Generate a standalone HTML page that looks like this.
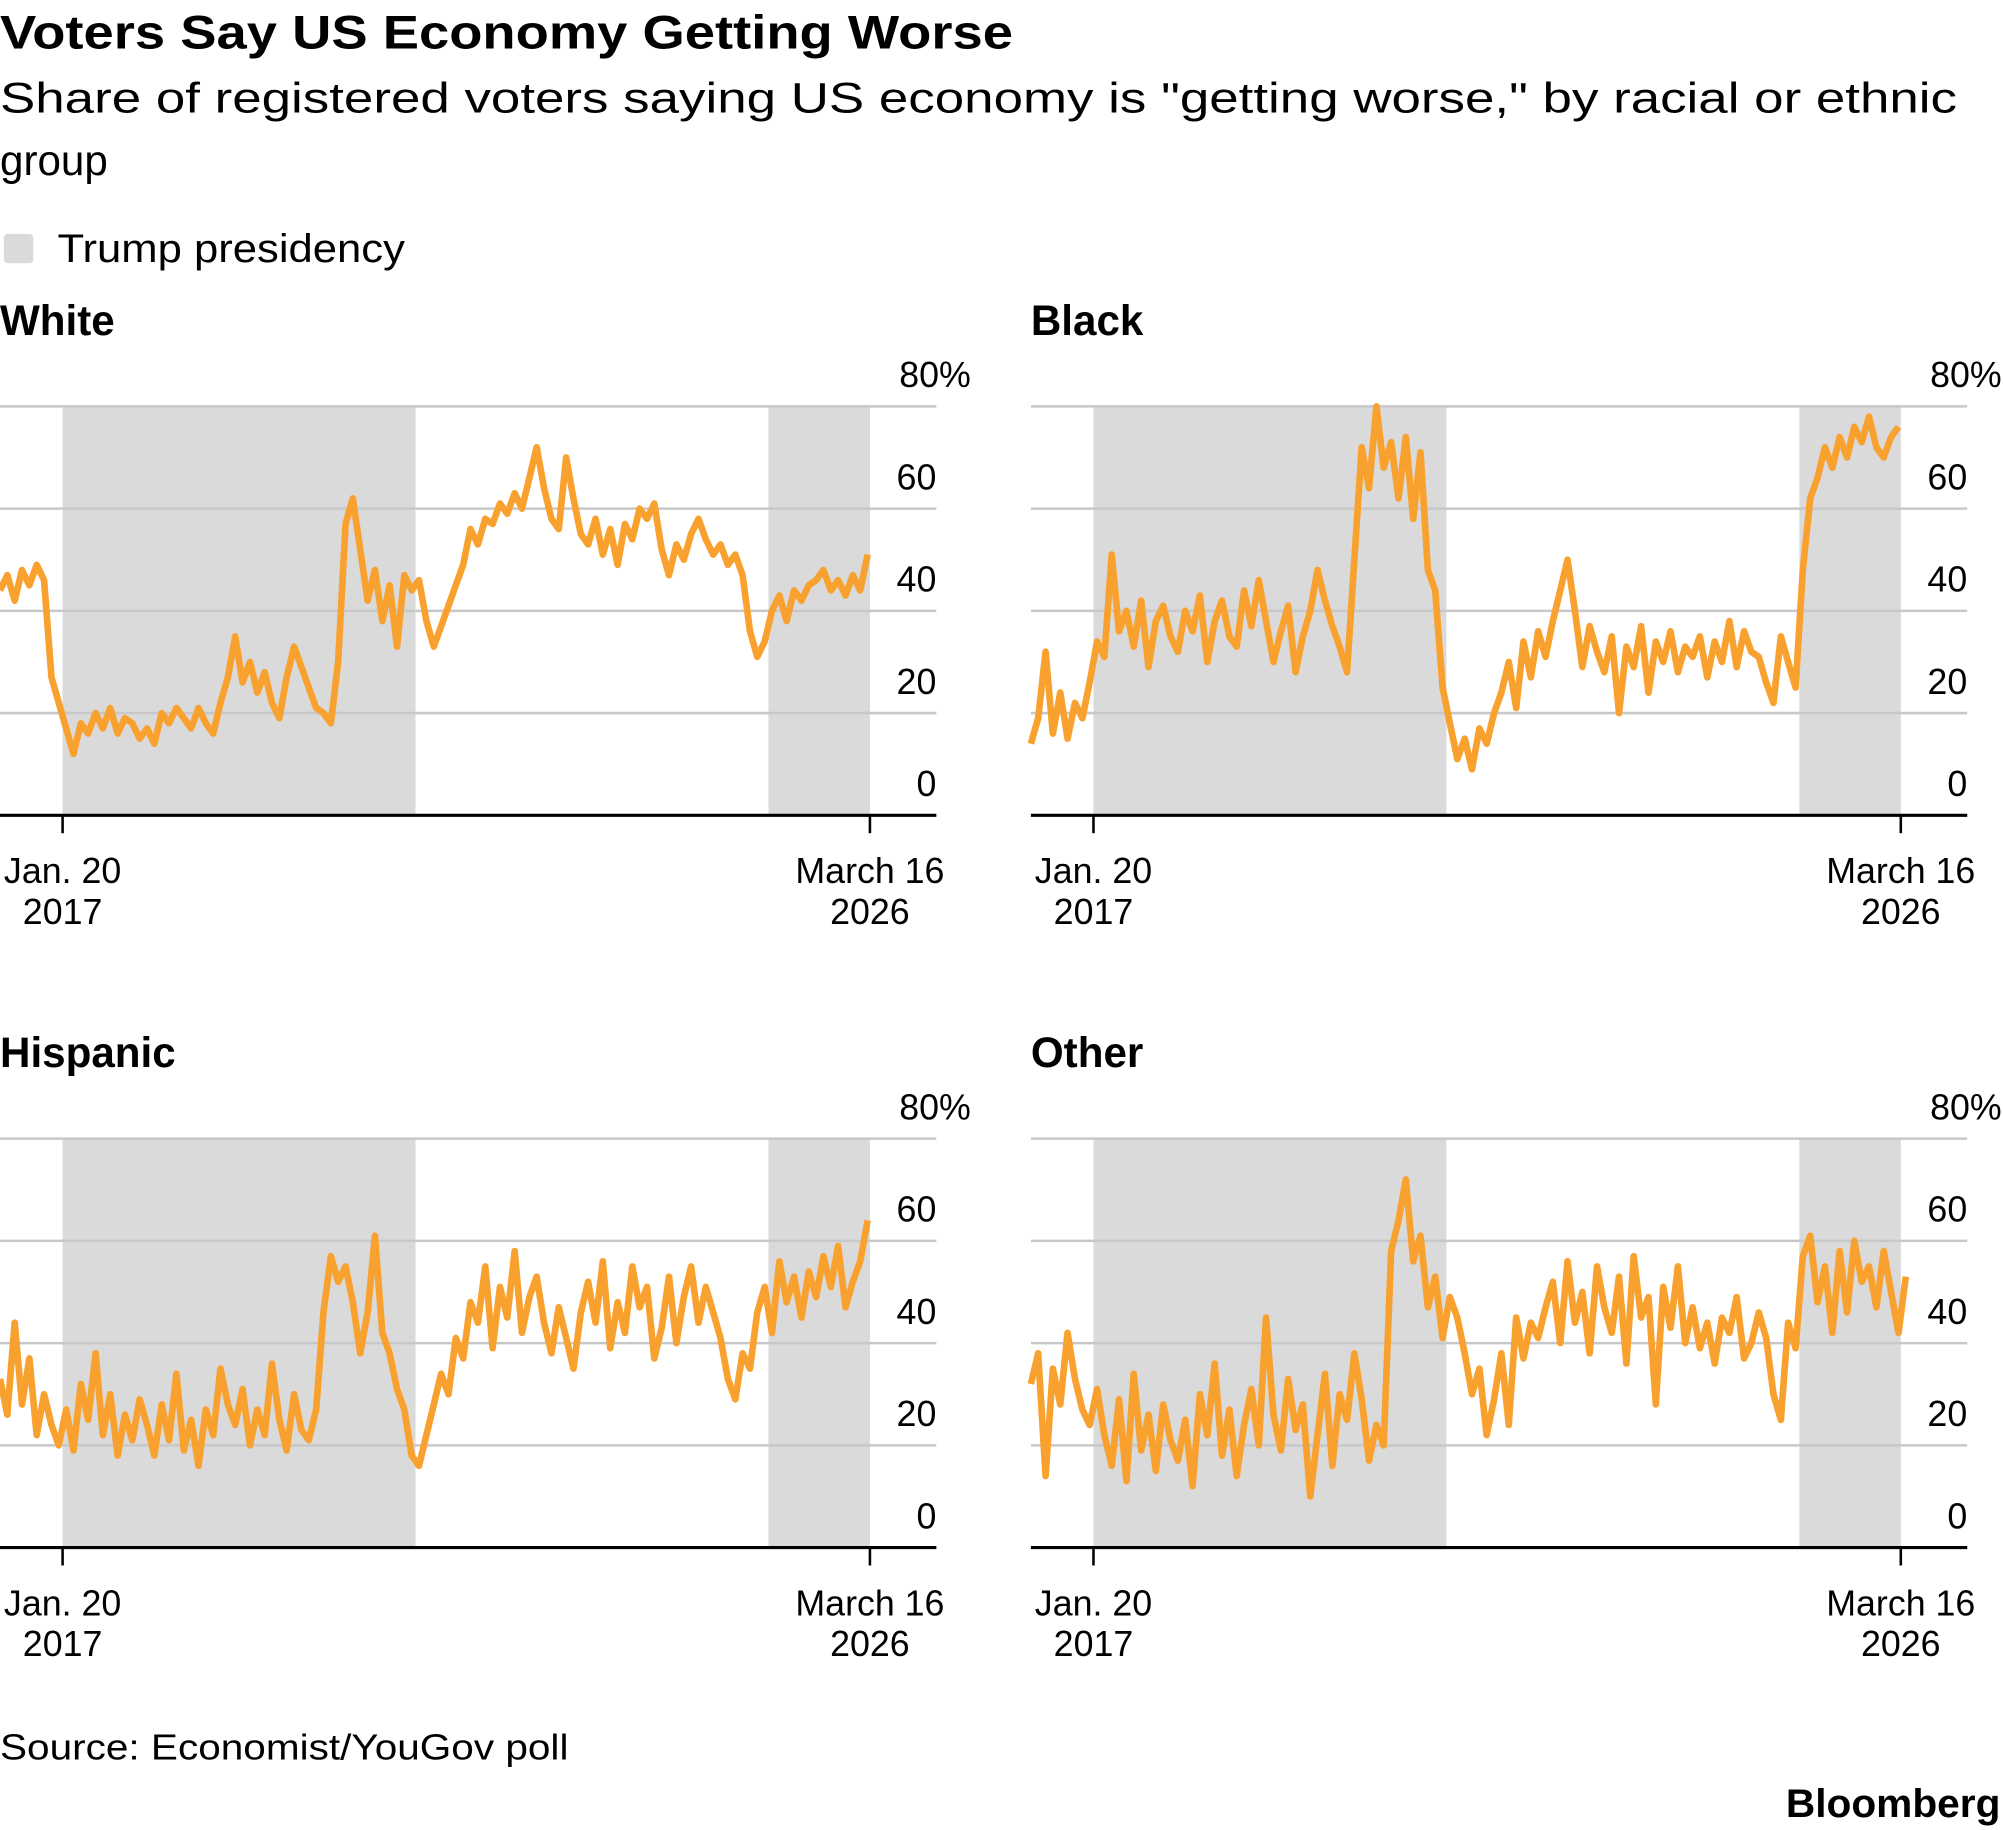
<!DOCTYPE html>
<html><head><meta charset="utf-8"><style>
html,body{margin:0;padding:0;background:#fff;}
svg{display:block;font-family:"Liberation Sans",Arial,sans-serif;}
</style></head><body>
<svg id="chart" width="2003" height="1830" viewBox="0 0 1568 1432" preserveAspectRatio="none" xmlns="http://www.w3.org/2000/svg">
<text x="0" y="38" font-size="37" font-weight="bold" fill="#000" textLength="793" lengthAdjust="spacingAndGlyphs">Voters Say US Economy Getting Worse</text>
<text x="0" y="88" font-size="33" fill="#000" textLength="1532" lengthAdjust="spacingAndGlyphs">Share of registered voters saying US economy is "getting worse," by racial or ethnic</text>
<text x="0" y="137" font-size="33" fill="#000">group</text>
<rect x="3" y="183" width="23" height="23" rx="3" fill="#dadada"/>
<text x="45" y="205" font-size="31" fill="#000" textLength="272" lengthAdjust="spacingAndGlyphs">Trump presidency</text>
<text x="0" y="1377" font-size="28" fill="#000" textLength="445" lengthAdjust="spacingAndGlyphs">Source: Economist/YouGov poll</text>
<text x="1566" y="1422" font-size="31" font-weight="bold" text-anchor="end" fill="#000" textLength="168" lengthAdjust="spacingAndGlyphs">Bloomberg</text>
<g id="panels"></g>
</svg>
<script>
const panelTitles = ["White","Black","Hispanic","Other"];
const yTicks = [0,20,40,60,80];
const startYear = 2016.34;
const stepYear = 1/12;
const shadeStarts = [2017.05, 2025.05];
const shadeEnds = [2021.05, 2026.2];
const white = [44,47,42,48,45,49,46,27,22,17, 12,18,16,20,17,21,16,19,18,15, 17,14,20,18,21,19,17,21,18,16, 22,27,35,26,30,24,28,22,19,27, 33,29,25,21,20,18,30,57,62,52, 42,48,38,45,33,47,44,46,38,33, 37,41,45,49,56,53,58,57,61,59, 63,60,66,72,64,58,56,70,62,55, 53,58,51,56,49,57,54,60,58,61, 52,47,53,50,55,58,54,51,53,49, 51,47,36,31,34,40,43,38,44,42, 45,46,48,44,46,43,47,44,51];
const black = [14,19,32,16,24,15,22,19,26,34, 31,51,36,40,33,42,29,38,41,35, 32,40,36,43,30,38,42,35,33,44, 37,46,38,30,36,41,28,35,40,48, 42,37,33,28,50,72,64,80,68,73, 62,74,58,71,48,44,25,18,11,15, 9,17,14,20,24,30,21,34,27,36, 31,38,44,50,40,29,37,32,28,35, 20,33,29,37,24,34,30,36,28,33, 31,35,27,34,30,38,29,36,32,31, 26,22,35,30,25,48,62,66,72,68, 74,70,76,73,78,72,70,74,76];
const hispanic = [33,26,44,28,37,22,30,24,20,27, 19,32,25,38,22,30,18,26,21,29, 24,18,28,21,34,19,25,16,27,22, 35,28,24,31,20,27,22,36,25,19, 30,23,21,27,46,57,52,55,48,38, 46,61,42,38,31,27,18,16,22,28, 34,30,41,37,48,44,55,39,51,45, 58,42,49,53,44,38,47,41,35,46, 52,44,56,39,48,42,55,47,51,37, 43,53,40,49,55,44,51,46,41,33, 29,38,35,46,51,42,56,48,53,45, 54,49,57,51,59,47,52,56,64];
const other = [32,38,14,35,28,42,33,27,24,31, 22,16,29,13,34,19,26,15,28,21, 17,25,12,30,22,36,18,27,14,24, 31,20,45,26,19,33,23,28,10,22, 34,16,30,25,38,29,17,24,20,58, 64,72,56,61,47,53,41,49,45,38, 30,35,22,29,38,24,45,37,44,41, 47,52,40,56,44,50,38,55,47,42, 53,36,57,45,49,28,51,43,55,40, 47,39,44,36,45,42,49,37,40,46, 41,30,25,44,39,57,61,48,55,42, 58,46,60,52,55,47,58,50,42,53];
const seriesList = [white, black, hispanic, other];

const NS = "http://www.w3.org/2000/svg";
const root = document.getElementById("panels");
function mk(tag, attrs, parent){
  const e = document.createElementNS(NS, tag);
  for (const k in attrs) e.setAttribute(k, attrs[k]);
  parent.appendChild(e);
  return e;
}
const offsets = [[0,0],[807,0],[0,573],[807,573]];
seriesList.forEach((vals, p) => {
  const ox = offsets[p][0], oy = offsets[p][1];
  const g = mk("g", {}, root);
  
  
  const xs = t => ox + 49 + (t - 2017.05) * (632 / 9.15);
  const ys = v => oy + 638 - v * 4;
  const title = mk("text", {x: ox, y: oy + 262, "font-size": 33, "font-weight": "bold", fill: "#000"}, g);
  title.textContent = panelTitles[p];
  
  
  shadeStarts.forEach((s, i) => {
    const r = mk("rect", {x: xs(s), y: ys(80), width: xs(shadeEnds[i]) - xs(s), height: ys(0) - ys(80), fill: "#dadada"}, g);
    
    
  });
  yTicks.forEach(v => {
    if (v > 0) {
      const l = mk("line", {x1: ox, x2: ox + 733, y1: ys(v), y2: ys(v), stroke: "#c8c8c8", "stroke-width": 2}, g);
      
      
    }
    const t = mk("text", {x: v === 80 ? ox + 760 : ox + 733, y: ys(v) - 15, "font-size": 28, "text-anchor": "end", fill: "#000"}, g);
    t.textContent = v === 80 ? "80%" : String(v);
    
    
  });
  let d = "";
  vals.forEach((v, i) => { d += (i ? "L" : "M") + xs(startYear + i * stepYear).toFixed(1) + "," + ys(v).toFixed(1); });
  const path = mk("path", {d: d, fill: "none", stroke: "#f9a12f", "stroke-width": 5.2, "stroke-linejoin": "round"}, g);
  
  
  const ax = mk("line", {x1: ox, x2: ox + 733, y1: ys(0), y2: ys(0), stroke: "#000", "stroke-width": 2.5}, g);
  
  
  [[2017.05, "Jan. 20", "2017"], [2026.2, "March 16", "2026"]].forEach(tk => {
    const x = xs(tk[0]);
    const tl = mk("line", {x1: x, x2: x, y1: ys(0), y2: ys(0) + 14, stroke: "#000", "stroke-width": 2}, g);
    
    
    const t1 = mk("text", {x: x, y: oy + 691, "font-size": 28, "text-anchor": "middle", fill: "#000"}, g);
    t1.textContent = tk[1];
    
    
    const t2 = mk("text", {x: x, y: oy + 723, "font-size": 28, "text-anchor": "middle", fill: "#000"}, g);
    t2.textContent = tk[2];
    
    
  });
});
</script>
</body></html>
